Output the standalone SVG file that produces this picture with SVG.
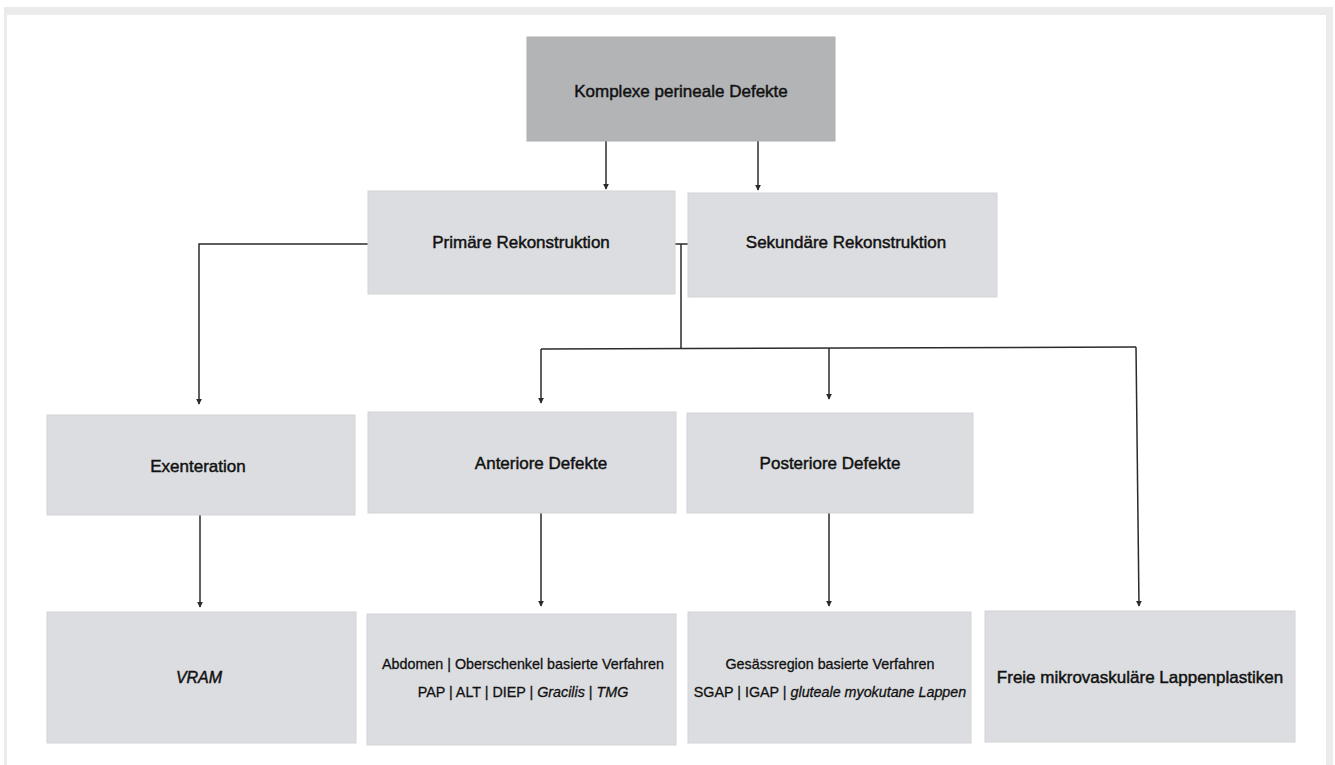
<svg xmlns="http://www.w3.org/2000/svg" width="1335" height="765" viewBox="0 0 1335 765">
<style>
.box{fill:#dcdde0;stroke:#d3d4d7;stroke-width:1}
.top{fill:#b3b4b6;stroke:#aeafb1;stroke-width:1}
text{font-family:"Liberation Sans",Arial,sans-serif;fill:#111111;text-anchor:middle;stroke:#111111;stroke-width:0.45}
.lg{font-size:17px}
.sm{font-size:14.3px;stroke-width:0.3}
.it{font-style:italic}
.c{fill:none;stroke:#2b2b2b;stroke-width:1.5}
</style>
<defs>
<marker id="ah" viewBox="0 0 8 8" refX="7" refY="4" markerWidth="6" markerHeight="6" markerUnits="userSpaceOnUse" orient="auto">
<path d="M0,0 L8,4 L0,8 z" fill="#2b2b2b"/>
</marker>
</defs>
<rect x="4" y="7" width="1329" height="758" fill="#ebebeb"/>
<rect x="7" y="15" width="1319" height="750" fill="#ffffff"/>
<g id="connectors">
<line class="c" x1="606" y1="141" x2="606" y2="189" marker-end="url(#ah)"/>
<line class="c" x1="758" y1="141" x2="758" y2="190" marker-end="url(#ah)"/>
<polyline class="c" points="368,244 199,244 199,404" marker-end="url(#ah)"/>
<line class="c" x1="675" y1="244" x2="688" y2="244"/>
<line class="c" x1="681" y1="244" x2="681" y2="348"/>
<line class="c" x1="541" y1="349" x2="1136" y2="347"/>
<line class="c" x1="541" y1="349" x2="541" y2="403" marker-end="url(#ah)"/>
<line class="c" x1="829" y1="348" x2="829" y2="399" marker-end="url(#ah)"/>
<line class="c" x1="1136" y1="347" x2="1139" y2="606" marker-end="url(#ah)"/>
<line class="c" x1="200" y1="515" x2="200" y2="607" marker-end="url(#ah)"/>
<line class="c" x1="541" y1="513" x2="541" y2="606" marker-end="url(#ah)"/>
<line class="c" x1="829" y1="513" x2="829" y2="606" marker-end="url(#ah)"/>
</g>
<g id="n-komplex"><rect class="top" x="527" y="37" width="308" height="104"/><text class="lg" x="681" y="97">Komplexe perineale Defekte</text></g>
<g id="n-primaer"><rect class="box" x="368" y="191" width="307" height="103"/><text class="lg" x="521" y="248">Primäre Rekonstruktion</text></g>
<g id="n-sekundaer"><rect class="box" x="688" y="193" width="309" height="104"/><text class="lg" x="846" y="248">Sekundäre Rekonstruktion</text></g>
<g id="n-exenteration"><rect class="box" x="47" y="415" width="308" height="100"/><text class="lg" x="198" y="472">Exenteration</text></g>
<g id="n-anterior"><rect class="box" x="368" y="412" width="308" height="101"/><text class="lg" x="541" y="469">Anteriore Defekte</text></g>
<g id="n-posterior"><rect class="box" x="687" y="413" width="286" height="100"/><text class="lg" x="830" y="469">Posteriore Defekte</text></g>
<g id="n-vram"><rect class="box" x="47" y="612" width="309" height="131"/><text class="lg it" x="199" y="683" style="font-size:16px">VRAM</text></g>
<g id="n-abdomen"><rect class="box" x="367" y="614" width="309" height="131"/><text class="sm" x="523" y="669">Abdomen | Oberschenkel basierte Verfahren</text><text class="sm" x="523" y="697">PAP | ALT | DIEP | <tspan class="it">Gracilis</tspan> | <tspan class="it">TMG</tspan></text></g>
<g id="n-gesaess"><rect class="box" x="688" y="612" width="283" height="131"/><text class="sm" x="830" y="669">Gesässregion basierte Verfahren</text><text class="sm" x="830" y="697">SGAP | IGAP | <tspan class="it">gluteale myokutane Lappen</tspan></text></g>
<g id="n-freie"><rect class="box" x="985" y="611" width="310" height="131"/><text class="lg" x="1140" y="683">Freie mikrovaskuläre Lappenplastiken</text></g>
</svg>
